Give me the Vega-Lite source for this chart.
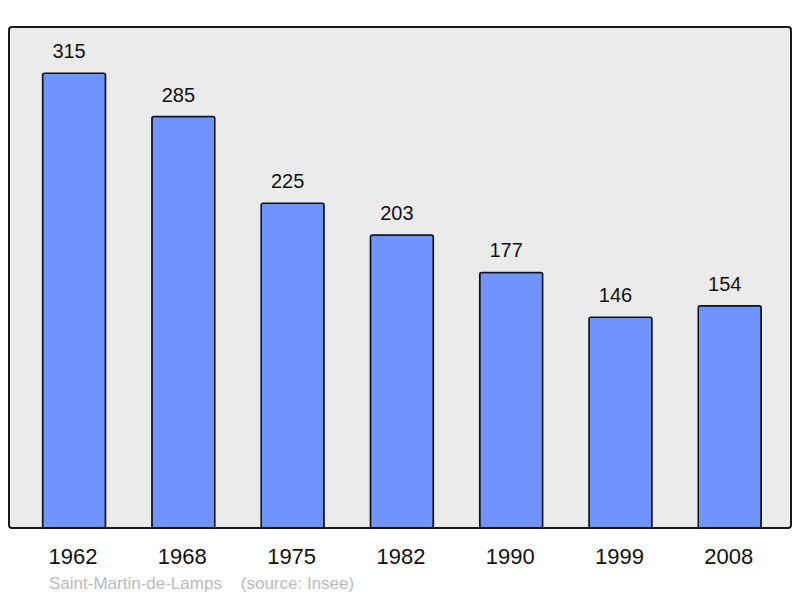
{
  "$schema": "https://vega.github.io/schema/vega-lite/v6.json",
  "width": 782,
  "height": 501,
  "autosize": {"type": "none"},
  "padding": {"left": 9, "top": 27, "right": 9, "bottom": 70},
  "background": "white",
  "config": {
    "font": "Liberation Sans",
    "view": {"fill": "#ebebeb", "stroke": "#1a1a1a", "strokeWidth": 2, "cornerRadius": 3}
  },
  "title": {
    "text": "Saint-Martin-de-Lamps\u00a0\u00a0\u00a0\u00a0(source: Insee)",
    "orient": "bottom",
    "anchor": "start",
    "dx": 40,
    "offset": 9,
    "fontSize": 17,
    "fontWeight": "normal",
    "color": "#bbbbbb",
    "font": "Liberation Sans"
  },
  "data": {
    "values": [
      {"year": "1962", "pop": 315},
      {"year": "1968", "pop": 285},
      {"year": "1975", "pop": 225},
      {"year": "1982", "pop": 203},
      {"year": "1990", "pop": 177},
      {"year": "1999", "pop": 146},
      {"year": "2008", "pop": 154}
    ]
  },
  "encoding": {
    "x": {
      "field": "year",
      "type": "ordinal",
      "sort": null,
      "scale": {"paddingInner": 0.424, "paddingOuter": 0.29, "align": 0.53},
      "axis": {
        "title": null,
        "ticks": false,
        "domain": false,
        "labelAngle": 0,
        "labelFontSize": 22,
        "labelColor": "#111111",
        "labelPadding": 18,
        "labelBaseline": "top",
        "labelOffset": -1
      }
    },
    "y": {
      "field": "pop",
      "type": "quantitative",
      "scale": {"domain": [0, 347], "nice": false},
      "axis": null
    }
  },
  "layer": [
    {
      "mark": {
        "type": "bar",
        "fill": "#7094ff",
        "stroke": "#111111",
        "strokeWidth": 1.5,
        "cornerRadius": 2
      }
    },
    {
      "mark": {
        "type": "text",
        "baseline": "bottom",
        "dy": -11,
        "dx": -5,
        "fontSize": 20,
        "color": "#111111"
      },
      "encoding": {"text": {"field": "pop", "type": "quantitative"}}
    }
  ]
}
